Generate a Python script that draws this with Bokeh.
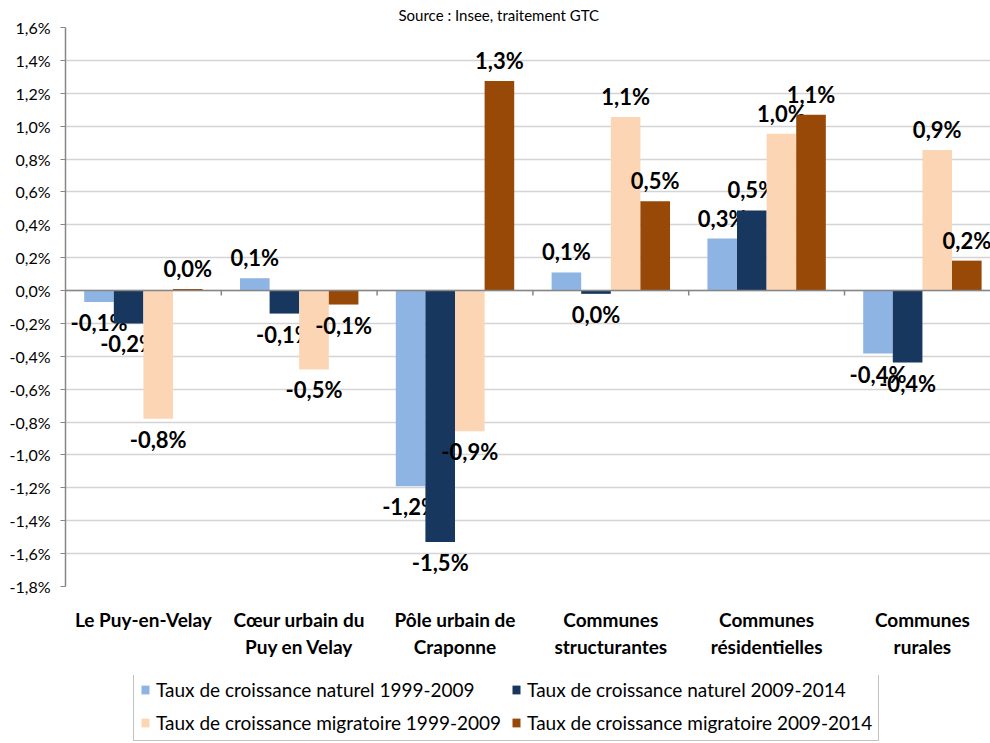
import numpy as np
from bokeh.plotting import figure
from bokeh.layouts import column
from bokeh.models import (ColumnDataSource, Range1d, FixedTicker, Legend, LegendItem,
                          Title, Span)
from bokeh.core.properties import value
from bokeh.embed import file_html
from bokeh.resources import INLINE

# ---------------- data ----------------
categories = ["Le Puy-en-Velay", "Cœur urbain du\nPuy en Velay", "Pôle urbain de\nCraponne",
              "Communes\nstructurantes", "Communes\nrésidentielles", "Communes\nrurales"]
series_names = ["Taux de croissance naturel 1999-2009",
                "Taux de croissance naturel 2009-2014",
                "Taux de croissance migratoire 1999-2009",
                "Taux de croissance migratoire 2009-2014"]
naturel_1999_2009 = [-0.07, 0.075, -1.19, 0.11, 0.316, -0.383]
naturel_2009_2014 = [-0.20, -0.14, -1.53, -0.02, 0.487, -0.438]
migratoire_1999_2009 = [-0.78, -0.48, -0.856, 1.055, 0.953, 0.855]
migratoire_2009_2014 = [0.01, -0.085, 1.275, 0.543, 1.07, 0.182]
series_values = [naturel_1999_2009, naturel_2009_2014, migratoire_1999_2009, migratoire_2009_2014]
colors = ["#8EB4E3", "#17375E", "#FCD5B5", "#984807"]
y_ticks = [-1.8, -1.6, -1.4, -1.2, -1.0, -0.8, -0.6, -0.4, -0.2, 0.0,
           0.2, 0.4, 0.6, 0.8, 1.0, 1.2, 1.4, 1.6]
y_tick_labels = ["-1,8%", "-1,6%", "-1,4%", "-1,2%", "-1,0%", "-0,8%", "-0,6%", "-0,4%", "-0,2%", "0,0%",
                 "0,2%", "0,4%", "0,6%", "0,8%", "1,0%", "1,2%", "1,4%", "1,6%"]
source_text = "Source : Insee, traitement GTC"


def fmt(v):
    s = f"{v:.1f}"
    if s == "-0.0":
        s = "0.0"
    return s.replace(".", ",") + "%"


FONT = "Lato"
BAR_W = 0.19
n = len(categories)
centers = np.arange(n) + 0.5

p = figure(width=990, height=675, output_backend="svg", toolbar_location=None,
           x_range=Range1d(0, 5.937), y_range=Range1d(-1.8, 1.6),
           min_border_left=65, min_border_right=0, min_border_top=27, min_border_bottom=89,
           background_fill_color="white", border_fill_color="white")
p.outline_line_color = None

p.add_layout(Title(text=source_text, align="left", offset=333, standoff=7,
                   text_font=FONT, text_font_size="15px", text_font_style="normal",
                   text_color="#000000"), "above")

# grid
p.xgrid.grid_line_color = None
p.ygrid.ticker = FixedTicker(ticks=y_ticks)
p.ygrid.grid_line_color = "#d4d4d4"
p.ygrid.grid_line_width = 1.5

# y axis
p.yaxis.ticker = FixedTicker(ticks=y_ticks)
p.yaxis.major_label_overrides = {t: l for t, l in zip(y_ticks, y_tick_labels)}
p.yaxis.axis_line_color = "#868686"
p.yaxis.axis_line_width = 1.5
p.yaxis.major_tick_line_color = "#868686"
p.yaxis.major_tick_out = 5
p.yaxis.major_tick_in = 0
p.yaxis.minor_tick_line_color = None
p.yaxis.major_label_text_font = FONT
p.yaxis.major_label_text_font_size = "16px"
p.yaxis.major_label_text_color = "#000000"
p.yaxis.major_label_standoff = 10

# x axis (category labels at the bottom)
p.xaxis.ticker = FixedTicker(ticks=list(centers))
p.xaxis.major_label_overrides = {float(c): lab for c, lab in zip(centers, categories)}
p.xaxis.axis_line_color = None
p.xaxis.major_tick_line_color = None
p.xaxis.minor_tick_line_color = None
p.xaxis.major_label_text_font = FONT
p.xaxis.major_label_text_font_size = "19px"
p.xaxis.major_label_text_font_style = "bold"
p.xaxis.major_label_text_color = "#000000"
p.xaxis.major_label_standoff = 15

# zero line and group separators
p.add_layout(Span(location=0, dimension="width", line_color="#868686", line_width=1.5))
bounds = np.arange(1, n)
p.segment(x0=bounds, x1=bounds, y0=0, y1=-0.03, line_color="#868686", line_width=1.5)

sources = []
for k, (vals, col) in enumerate(zip(series_values, colors)):
    xs = centers + (k - 1.5) * BAR_W
    vals = np.array(vals)
    src = ColumnDataSource(dict(
        x=xs, top=vals, label=[fmt(v) for v in vals],
        base=["bottom" if v >= 0 else "top" for v in vals],
        off=[-7 if v >= 0 else 7 for v in vals]))
    sources.append(src)
    p.vbar(x="x", top="top", bottom=0, width=BAR_W, source=src,
           fill_color=col, line_color=None)
    p.text(x="x", y="top", text="label", source=src, text_align="center",
           text_baseline="base", y_offset="off", text_font=value(FONT),
           text_font_size="22px", text_font_style="bold", text_color="#000000")

# ---------------- legend strip (below the chart) ----------------
lg = figure(width=990, height=66, output_backend="svg", toolbar_location=None,
            x_range=Range1d(0, 1), y_range=Range1d(10, 11), min_border=0,
            x_axis_location=None, y_axis_location=None,
            background_fill_color="white", border_fill_color="white")
lg.grid.visible = False
lg.outline_line_color = None
proxies = [lg.vbar(x="x", top="top", bottom=0, width=BAR_W, source=s,
                   fill_color=c, line_color=None) for s, c in zip(sources, colors)]
items = [LegendItem(label=nm, renderers=[r]) for nm, r in zip(series_names, proxies)]
items = [items[0], items[2], items[1], items[3]]  # column-major fill -> row order of reference
legend = Legend(items=items, ncols=2, location=(68, 0),
                label_text_font=FONT, label_text_font_size="19px", label_text_color="#000000",
                glyph_width=10, glyph_height=11, label_standoff=6, label_height=22,
                spacing=10, padding=6, margin=0,
                border_line_color="#868686", border_line_width=1,
                background_fill_color="white", background_fill_alpha=1)
lg.add_layout(legend, "center")

open("out.html", "w").write(file_html(column(p, lg, spacing=0), INLINE))
